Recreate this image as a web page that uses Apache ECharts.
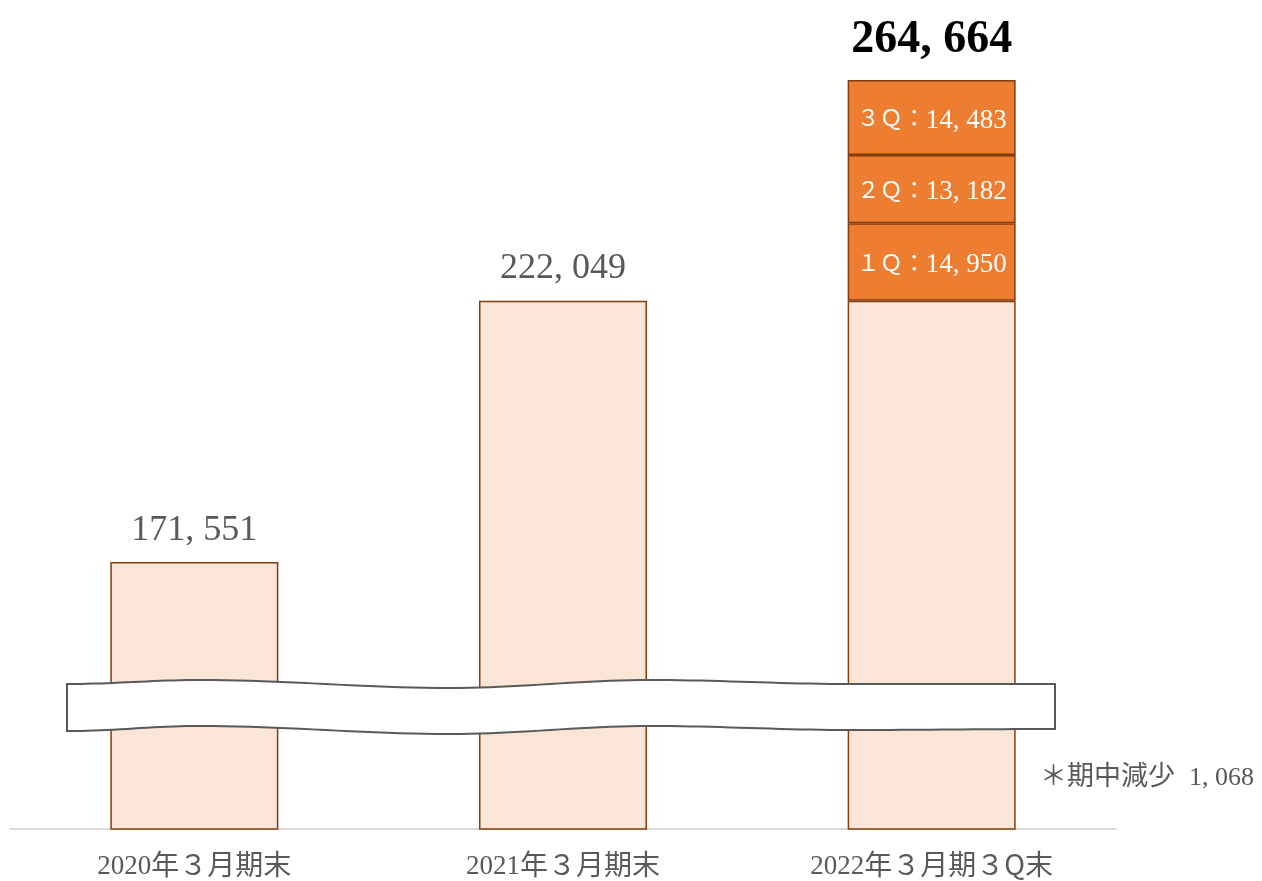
<!DOCTYPE html>
<html>
<head>
<meta charset="utf-8">
<title>期末推移</title>
<script src="https://cdn.jsdelivr.net/npm/echarts@6/dist/echarts.min.js"></script>
<style>
  html, body { margin: 0; padding: 0; background: #fff; }
  #chart { width: 1262px; height: 881px; }
</style>
</head>
<body>
<div id="chart"></div>
<script>
// 期末の残高
const categories = ["2020年３月期末", "2021年３月期末", "2022年３月期３Q末"];
const baseValues = [171551, 222049, 222049];
// 四半期ごとの増加分（3本目のみ）
const quarterNames = ["１Ｑ", "２Ｑ", "３Ｑ"];
const quarterValues = [14950, 13182, 14483];
// 注記
const noteLabel = "＊期中減少";
const noteValue = 1068;

const serif = "'Liberation Serif', 'Noto Sans CJK JP', serif";
const cjk = "'Noto Sans CJK JP', 'Liberation Serif', sans-serif";
const fmt = (v) => v.toLocaleString("en-US").replace(/,/g, ", ");

// 数字と全角文字で大きさを分ける
const mixed = (s) =>
  s
    .split(/([0-9][0-9, ]*[0-9]|[0-9])/)
    .filter(Boolean)
    .map((part) => (/^[0-9]/.test(part) ? "{d|" + part + "}" : "{c|" + part + "}"))
    .join("");

const total = baseValues[2] + quarterValues.reduce((a, b) => a + b, 0);

// 波線の帯（軸の省略記号）の形
function wave(keys) {
  let pts = [];
  for (let k = 0; k < keys.length - 1; k++) {
    const [x0, y0] = keys[k];
    const [x1, y1] = keys[k + 1];
    for (let s = 0; s < 20; s++) {
      const t = s / 20;
      const e = (1 - Math.cos(Math.PI * t)) / 2;
      pts.push([x0 + (x1 - x0) * t, y0 + (y1 - y0) * e]);
    }
  }
  pts.push(keys[keys.length - 1]);
  return pts;
}
const topEdge = wave([[67, 684], [200, 680], [450, 688], [650, 680], [850, 684], [1055, 684]]);
const bottomEdge = wave([[67, 731], [200, 726], [450, 734], [650, 726], [850, 730], [1055, 729]]);
const bandPoints = topEdge.concat(bottomEdge.reverse());

let chart = echarts.init(document.getElementById("chart"));

let series = [
  {
    name: "base",
    type: "bar",
    stack: "total",
    barWidth: 168,
    data: baseValues.map((v, i) => ({
      value: v,
      label: { show: i < 2 },
    })),
    itemStyle: { color: "#FBE5D6", borderColor: "#843C0C", borderWidth: 1.5 },
    label: {
      position: "top",
      distance: 14,
      fontFamily: serif,
      fontSize: 36,
      color: "#595959",
      formatter: (p) => fmt(p.value),
    },
    z: 2,
  },
];

quarterNames.forEach((q, qi) => {
  series.push({
    name: q,
    type: "bar",
    stack: "total",
    barWidth: 168,
    data: categories.map((c, i) => (i === 2 ? quarterValues[qi] : null)),
    itemStyle: { color: "#ED7D31", borderColor: "#843C0C", borderWidth: 1.5 },
    label: {
      show: true,
      position: "inside",
      color: "#ffffff",
      formatter: (p) => "{c|" + q + "：}{d|" + fmt(p.value) + "}",
      rich: {
        c: { fontFamily: cjk, fontSize: 23, color: "#ffffff", lineHeight: 30, verticalAlign: "middle" },
        d: { fontFamily: serif, fontSize: 27, color: "#ffffff", lineHeight: 30, verticalAlign: "middle", padding: [6, 0, 0, 0] },
      },
    },
    z: 2,
  });
});

// 合計ラベル
series.push({
  name: "合計",
  type: "scatter",
  symbolSize: 1,
  itemStyle: { color: "rgba(0,0,0,0)" },
  data: categories.map((c, i) => (i === 2 ? total : "-")),
  label: {
    show: true,
    position: "top",
    distance: 16,
    fontFamily: serif,
    fontSize: 46,
    fontWeight: "bold",
    color: "#000000",
    opacity: 1,
    formatter: (p) => fmt(p.value),
  },
  z: 3,
});

let options = {
  animation: false,
  grid: { left: 10, right: 146, top: 80, bottom: 52, containLabel: false },
  xAxis: {
    type: "category",
    data: categories,
    axisLine: { lineStyle: { color: "#D9D9D9", width: 2 } },
    axisTick: { show: false },
    axisLabel: {
      margin: 18,
      formatter: (v) => mixed(v),
      rich: {
        c: { fontFamily: cjk, fontSize: 28, color: "#595959", lineHeight: 34, verticalAlign: "middle" },
        d: { fontFamily: serif, fontSize: 27, color: "#595959", lineHeight: 34, verticalAlign: "middle", padding: [6, 0, 0, 0] },
      },
    },
  },
  yAxis: {
    type: "value",
    min: 120000,
    max: total,
    show: false,
    splitLine: { show: false },
  },
  series: series,
  graphic: [
    {
      type: "polygon",
      z: 100,
      shape: { points: bandPoints },
      style: { fill: "#ffffff", stroke: "#595959", lineWidth: 2 },
    },
    {
      type: "text",
      left: 1040,
      top: 759,
      z: 100,
      style: {
        text: "{c|" + noteLabel + "}{d|" + fmt(noteValue) + "}",
        rich: {
          c: { fontFamily: cjk, fontSize: 27, fill: "#595959", lineHeight: 34, verticalAlign: "middle" },
          d: { fontFamily: serif, fontSize: 26, fill: "#595959", lineHeight: 34, verticalAlign: "middle", padding: [6, 0, 0, 14] },
        },
      },
    },
  ],
};

chart.setOption(options);
</script>
</body>
</html>
